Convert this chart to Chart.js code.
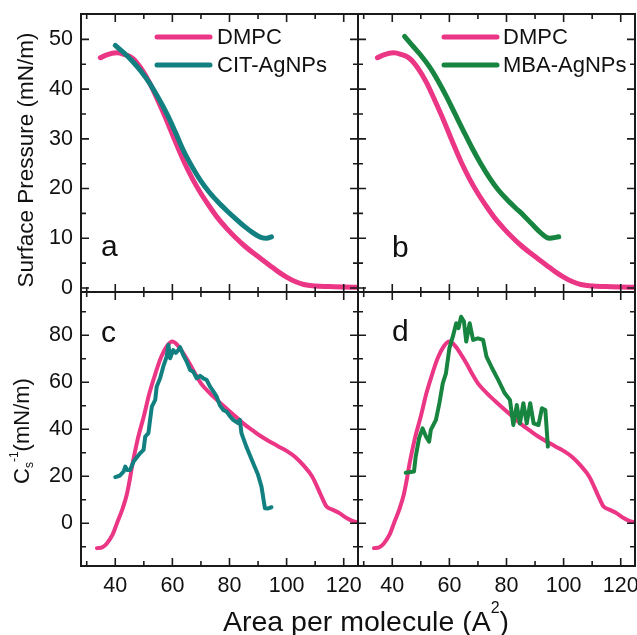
<!DOCTYPE html>
<html>
<head>
<meta charset="utf-8">
<script src="https://cdn.jsdelivr.net/npm/chart.js@4.4.1/dist/chart.umd.min.js"></script>
<style>
  body { margin: 0; background: #fff; }
  #wrap { position: relative; width: 637px; height: 635px; overflow: hidden; font-family: "Liberation Sans", Arial, sans-serif; color: #111; }
  #wrap canvas { position: absolute; left: 0; top: 0; }
  .title { position: absolute; white-space: nowrap; line-height: 1; }
  .vert { transform: translate(-50%, -50%) rotate(-90deg); }
</style>
</head>
<body>
<div id="wrap">
  <canvas id="chartA" width="637" height="635"></canvas>
  <canvas id="chartB" width="637" height="635"></canvas>
  <canvas id="chartC" width="637" height="635"></canvas>
  <canvas id="chartD" width="637" height="635"></canvas>
  <div class="title vert" style="left:26px; top:160px; font-size:22.5px;">Surface Pressure (mN/m)</div>
  <div class="title vert" style="left:22px; top:431px; font-size:22px;">C<span style="font-size:12px; position:relative; top:4px;">s</span><span style="font-size:12px; position:relative; top:-11px;">-1</span>(mN/m)</div>
  <div class="title" style="left:366px; top:607px; font-size:28.5px; transform: translateX(-50%);">Area per molecule (A<span style="font-size:16px; position:relative; top:-18px;">2</span>)</div>
</div>
<script>
// tick values
const areaMajor = [40, 60, 80, 100, 120];
const areaMinor = [30, 50, 70, 90, 110];
const pressureMajor = [0, 10, 20, 30, 40, 50];
const pressureMinor = [5, 15, 25, 35, 45];
const modulusMajor = [0, 20, 40, 60, 80];
const modulusMinor = [-10, 10, 30, 50, 70, 90];

// isotherms (surface pressure vs area)
const dmpcArea = [34.8, 37, 40.5, 43, 46, 49, 52, 55, 58, 61, 64, 67, 70, 73, 76, 79, 82, 85, 88, 91, 94, 97, 100, 103, 106, 110, 115, 120, 125];
const dmpcPressure = [46.3, 46.9, 47.3, 47.0, 46.2, 44.2, 41.3, 37.6, 33.7, 29.5, 25.5, 22.0, 19.0, 16.4, 14.0, 12.0, 10.2, 8.6, 7.2, 5.9, 4.6, 3.3, 2.2, 1.3, 0.7, 0.4, 0.3, 0.2, 0.15];

const citArea = [40, 43, 46, 49, 52, 55, 58, 61, 64, 67, 70, 73, 76, 79, 82, 85, 88, 91, 93, 94.7];
const citPressure = [48.8, 47.3, 45.6, 43.6, 41.2, 38.3, 35.1, 31.4, 27.5, 24.3, 21.5, 19.2, 17.3, 15.6, 14.0, 12.5, 11.2, 10.2, 10.0, 10.3];

const mbaArea = [44.3, 47, 50, 53, 56, 59, 62, 65, 68, 71, 74, 77, 80, 83, 86, 89, 92, 95, 98.3];
const mbaPressure = [50.6, 48.8, 46.8, 44.5, 41.7, 38.5, 35.0, 31.5, 28.1, 25.0, 22.2, 19.8, 17.9, 16.2, 14.6, 12.8, 11.1, 10.0, 10.3];

// compressional modulus vs area
const dmpcCsArea = [33.6, 35.5, 37, 39, 40.6, 42.5, 44, 45, 46, 47, 48, 50, 52, 54, 56, 58, 60, 62, 64, 66, 68, 70, 73, 76, 79, 82, 85, 88, 91, 94, 97, 100, 103, 106, 109, 112, 114, 116, 118.5, 121, 123, 125];
const dmpcCs = [-10.6, -10.2, -8.7, -5, 0, 6, 12, 18, 25, 31, 36.5, 45.5, 55.5, 63.5, 70.5, 75.2, 77.3, 75.5, 72, 68, 63.5, 59.5, 55.5, 52, 48.7, 45.5, 42.3, 39.6, 37, 34.8, 32.8, 30.8, 28.2, 24.5, 19.8, 12, 7.1, 5.8, 4.3, 2.2, 1.0, 0.4];

const citCsArea = [40, 41.5, 42.9, 43.5, 44.2, 45.2, 46.4, 47.5, 48.7, 49.9, 50.5, 51.6, 52.2, 52.8, 54, 54.5, 55.7, 56.8, 58, 58.6, 59.2, 60.3, 61.2, 62.1, 62.7, 63.8, 65, 66.2, 67.3, 68.5, 69.7, 71, 72, 73.2, 74.4, 75.5, 76.6, 77.8, 79, 80.2, 81.3, 83, 83.6, 84.2, 85.9, 88.3, 90, 91.2, 92.4, 93.5, 94.7];
const citCs = [19.6, 20.2, 22, 24.1, 22.6, 22.7, 26.2, 28, 29.8, 31.2, 36.9, 38.3, 44, 49.6, 52.5, 58.1, 61.7, 66.6, 70.9, 75.9, 70.2, 73.7, 72.5, 73.7, 74.9, 71.6, 68.8, 65.2, 64.5, 61.7, 62.7, 61.5, 61, 58.1, 56, 53.9, 50.3, 48.2, 47.5, 45.5, 44, 42.6, 44, 38.3, 32.6, 25.5, 20.6, 15.6, 6.4, 6.3, 6.8];

const mbaCsArea = [44.7, 47.6, 48.2, 49.4, 50.6, 51.8, 52.9, 53.5, 55.3, 56.5, 57.7, 58.8, 60, 61.2, 62.4, 63.2, 64.1, 65.1, 65.9, 67.1, 68.3, 70, 71.8, 73, 74.7, 77.1, 79.4, 81.2, 82.4, 83.6, 84.7, 85.9, 87.1, 88.3, 89.5, 91.2, 92.4, 93.6, 94.5];
const mbaCs = [21.5, 22, 28.3, 36.2, 40.4, 36.9, 34.7, 39.7, 44, 51.1, 59.6, 63.8, 74.5, 79.4, 85.1, 83, 87.9, 85.8, 77.3, 85.1, 78, 78.7, 78, 70.9, 66.6, 61, 55.3, 52.5, 41.8, 50.3, 42.5, 51.1, 42.5, 51.1, 42.5, 41.8, 48.9, 48.2, 32.6];

const FONT = "'Liberation Sans', Arial, sans-serif";
Chart.defaults.font.family = FONT;
Chart.defaults.color = "#111";

const PINK = "#EB3585";
const TEAL = "#128080";
const GREEN = "#178540";

const toPoints = (xs, ys) => xs.map((x, i) => ({ x: x, y: ys[i] }));

const line = (label, xs, ys, color, width, smooth, order) => ({
    label: label,
    data: toPoints(xs, ys),
    borderColor: color,
    backgroundColor: color,
    borderWidth: width,
    pointRadius: 0,
    borderCapStyle: "round",
    borderJoinStyle: "round",
    cubicInterpolationMode: smooth ? "monotone" : "default",
    tension: 0,
    order: order,
});

// frame, inward ticks, inset legend and panel letter
const panelDecor = (cfg) => ({
    id: "panelDecor",
    afterDatasetsDraw(chart) {
        const { ctx, chartArea, scales } = chart;
        const { left, right, top, bottom } = chartArea;
        ctx.save();
        ctx.strokeStyle = "#1a1a1a";
        ctx.lineWidth = 1.6;
        ctx.beginPath();
        const xTick = (vals, len) => vals.forEach((v) => {
            const px = scales.x.getPixelForValue(v);
            ctx.moveTo(px, bottom); ctx.lineTo(px, bottom - len);
            ctx.moveTo(px, top); ctx.lineTo(px, top + len);
        });
        const yTick = (vals, len) => vals.forEach((v) => {
            const py = scales.y.getPixelForValue(v);
            ctx.moveTo(left, py); ctx.lineTo(left + len, py);
            ctx.moveTo(right, py); ctx.lineTo(right - len, py);
        });
        xTick(areaMajor, 8);
        xTick(areaMinor, 5);
        yTick(cfg.yMajor, 8);
        yTick(cfg.yMinor, 5);
        ctx.stroke();
        ctx.lineWidth = 2;
        ctx.strokeRect(left, top, right - left, bottom - top);

        if (cfg.legend) {
            const lg = cfg.legend;
            ctx.font = "22px " + FONT;
            ctx.textBaseline = "middle";
            ctx.textAlign = "left";
            chart.data.datasets.forEach((ds, i) => {
                const y = lg.y + i * lg.gap;
                ctx.strokeStyle = ds.borderColor;
                ctx.lineWidth = 5;
                ctx.lineCap = "round";
                ctx.beginPath();
                ctx.moveTo(lg.x, y);
                ctx.lineTo(lg.x + lg.len, y);
                ctx.stroke();
                ctx.fillStyle = "#111";
                ctx.fillText(ds.label, lg.textX, y + 1);
            });
        }
        if (cfg.letter) {
            ctx.font = "30px " + FONT;
            ctx.textBaseline = "alphabetic";
            ctx.textAlign = "left";
            ctx.fillStyle = "#111";
            ctx.fillText(cfg.letter.text, cfg.letter.x, cfg.letter.y);
        }
        ctx.restore();
    },
});

const panel = (id, cfg) => {
    const a = cfg.area;
    return new Chart(document.getElementById(id), {
        type: "line",
        data: { datasets: cfg.datasets },
        options: {
            responsive: false,
            animation: false,
            devicePixelRatio: 1,
            layout: {
                padding: {
                    left: cfg.yLabels ? 0 : a.left,
                    top: a.top,
                    right: 637 - a.right,
                    bottom: cfg.xLabels ? 635 - a.bottom - 30 : 635 - a.bottom,
                },
            },
            plugins: { legend: { display: false }, tooltip: { enabled: false } },
            scales: {
                x: {
                    type: "linear",
                    min: 28,
                    max: 125,
                    display: cfg.xLabels,
                    grid: { display: false, drawTicks: false },
                    border: { display: false },
                    ticks: { font: { size: 21.5 }, padding: 7, maxRotation: 0, autoSkip: false },
                    afterBuildTicks: (s) => { s.ticks = areaMajor.map((v) => ({ value: v })); },
                    afterFit: (s) => {
                        s.height = cfg.xLabels ? 30 : 0;
                        s.paddingLeft = 0;
                        s.paddingRight = 0;
                    },
                },
                y: {
                    type: "linear",
                    min: cfg.yMin,
                    max: cfg.yMax,
                    display: cfg.yLabels,
                    grid: { display: false, drawTicks: false },
                    border: { display: false },
                    ticks: { font: { size: 21.5 }, padding: 8, autoSkip: false },
                    afterBuildTicks: (s) => { s.ticks = cfg.yMajor.map((v) => ({ value: v })); },
                    afterFit: (s) => {
                        s.width = cfg.yLabels ? a.left : 0;
                        s.paddingTop = 0;
                        s.paddingBottom = 0;
                    },
                },
            },
        },
        plugins: [panelDecor(cfg)],
    });
};

const topRow = { top: 14, bottom: 292 };
const botRow = { top: 292, bottom: 566 };

panel("chartA", {
    area: { left: 81, right: 358, ...topRow },
    yLabels: true, xLabels: false,
    yMin: -0.8, yMax: 55.1, yMajor: pressureMajor, yMinor: pressureMinor,
    datasets: [
        line("DMPC", dmpcArea, dmpcPressure, PINK, 5, true, 2),
        line("CIT-AgNPs", citArea, citPressure, TEAL, 5, true, 1),
    ],
    legend: { x: 157, y: 37, gap: 28, len: 53, textX: 217 },
    letter: { text: "a", x: 101, y: 256 },
});

panel("chartB", {
    area: { left: 358, right: 635, ...topRow },
    yLabels: false, xLabels: false,
    yMin: -0.8, yMax: 55.1, yMajor: pressureMajor, yMinor: pressureMinor,
    datasets: [
        line("DMPC", dmpcArea, dmpcPressure, PINK, 5, true, 2),
        line("MBA-AgNPs", mbaArea, mbaPressure, GREEN, 5, true, 1),
    ],
    legend: { x: 444, y: 37, gap: 28, len: 53, textX: 503 },
    letter: { text: "b", x: 392, y: 257 },
});

panel("chartC", {
    area: { left: 81, right: 358, ...botRow },
    yLabels: true, xLabels: true,
    yMin: -18.2, yMax: 98.4, yMajor: modulusMajor, yMinor: modulusMinor,
    datasets: [
        line("DMPC", dmpcCsArea, dmpcCs, PINK, 4, true, 2),
        line("CIT-AgNPs", citCsArea, citCs, TEAL, 4, false, 1),
    ],
    legend: null,
    letter: { text: "c", x: 101, y: 342 },
});

panel("chartD", {
    area: { left: 358, right: 635, ...botRow },
    yLabels: false, xLabels: true,
    yMin: -18.2, yMax: 98.4, yMajor: modulusMajor, yMinor: modulusMinor,
    datasets: [
        line("DMPC", dmpcCsArea, dmpcCs, PINK, 4, true, 2),
        line("MBA-AgNPs", mbaCsArea, mbaCs, GREEN, 4, false, 1),
    ],
    legend: null,
    letter: { text: "d", x: 392, y: 341 },
});
</script>
</body>
</html>
